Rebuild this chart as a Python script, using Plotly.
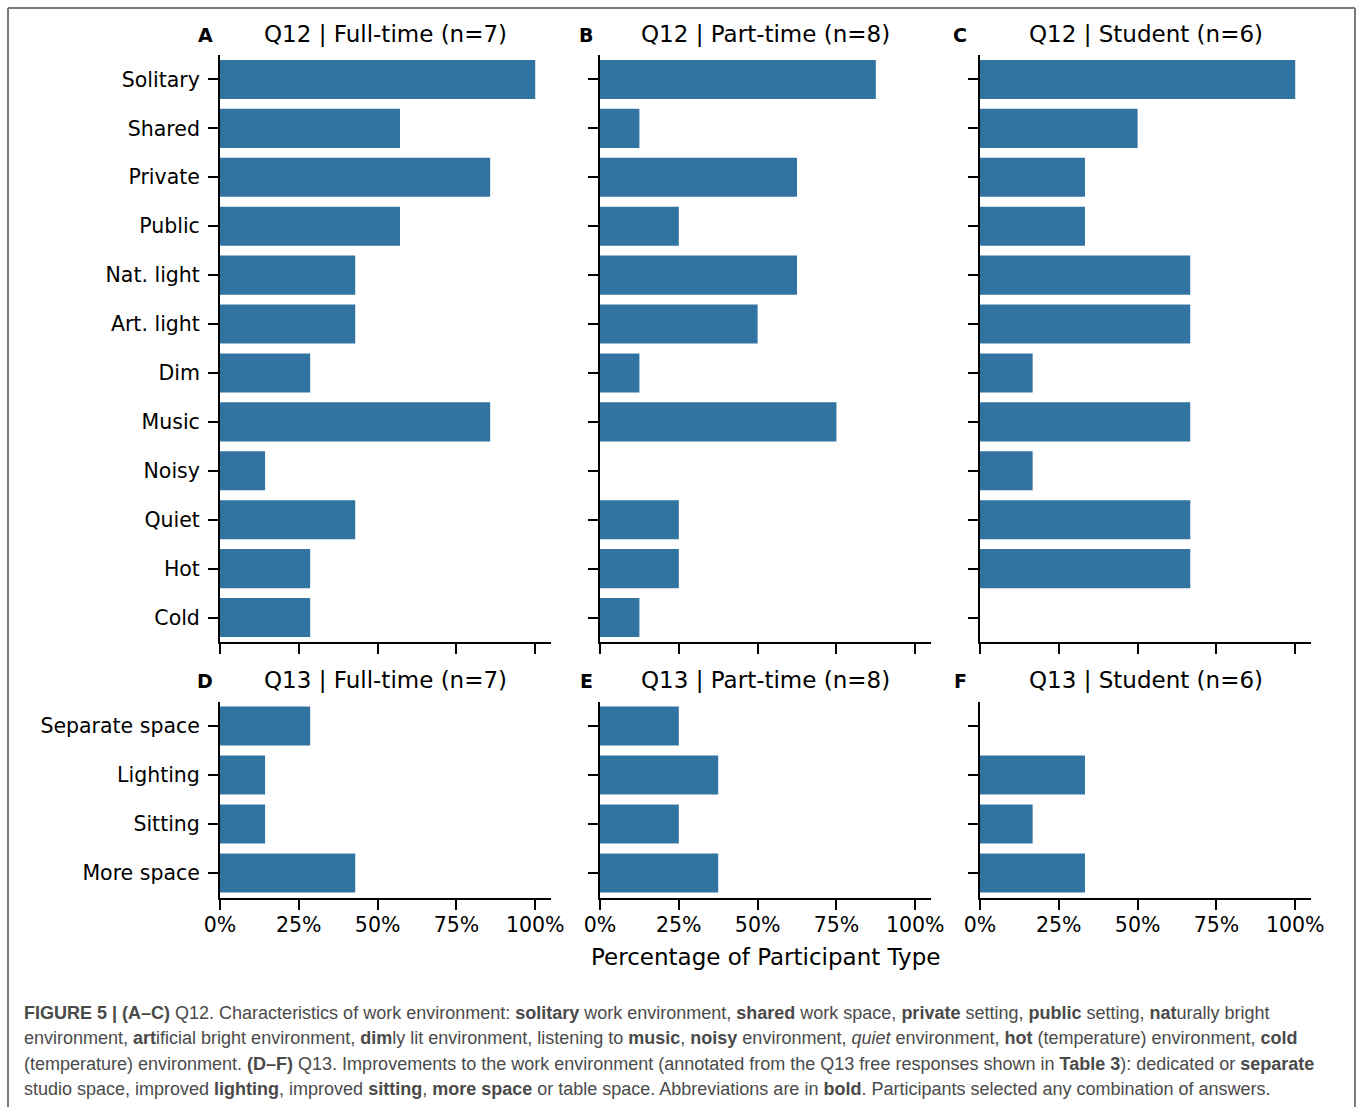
import plotly.graph_objects as go

# ---- data -------------------------------------------------------------
q12_categories = ["Solitary", "Shared", "Private", "Public", "Nat. light", "Art. light",
                  "Dim", "Music", "Noisy", "Quiet", "Hot", "Cold"]
q13_categories = ["Separate space", "Lighting", "Sitting", "More space"]

# share of participants of each type (0-1)
q12_full_time = [1.000, 0.571, 0.857, 0.571, 0.429, 0.429, 0.286, 0.857, 0.143, 0.429, 0.286, 0.286]
q12_part_time = [0.875, 0.125, 0.625, 0.250, 0.625, 0.500, 0.125, 0.750, 0.000, 0.250, 0.250, 0.125]
q12_student = [1.000, 0.500, 0.333, 0.333, 0.667, 0.667, 0.167, 0.667, 0.167, 0.667, 0.667, 0.000]

q13_full_time = [0.286, 0.143, 0.143, 0.429]
q13_part_time = [0.250, 0.375, 0.250, 0.375]
q13_student = [0.000, 0.333, 0.167, 0.333]

panel_titles = ["Q12 | Full-time (n=7)", "Q12 | Part-time (n=8)", "Q12 | Student (n=6)",
                "Q13 | Full-time (n=7)", "Q13 | Part-time (n=8)", "Q13 | Student (n=6)"]
panel_letters = ["A", "B", "C", "D", "E", "F"]

x_tick_values = [0, 0.25, 0.5, 0.75, 1.0]
x_tick_labels = ["0%", "25%", "50%", "75%", "100%"]
x_axis_title = "Percentage of Participant Type"

caption_lines = [
    "<b>FIGURE 5 | (A–C)</b> Q12. Characteristics of work environment: <b>solitary</b> work environment, "
    "<b>shared</b> work space, <b>private</b> setting, <b>public</b> setting, <b>nat</b>urally bright",
    "environment, <b>art</b>ificial bright environment, <b>dim</b>ly lit environment, listening to <b>music</b>, "
    "<b>noisy</b> environment, <i>quiet</i> environment, <b>hot</b> (temperature) environment, <b>cold</b>",
    "(temperature) environment. <b>(D–F)</b> Q13. Improvements to the work environment (annotated from the "
    "Q13 free responses shown in <b>Table 3</b>): dedicated or <b>separate</b>",
    "studio space, improved <b>lighting</b>, improved <b>sitting</b>, <b>more space</b> or table space. "
    "Abbreviations are in <b>bold</b>. Participants selected any combination of answers.",
]

# ---- layout geometry (pixels) -----------------------------------------
W, H = 1357, 1107
col_px = [(220, 551), (600, 931), (980, 1311)]
row_px = [(55, 642), (701.5, 897.5)]
letter_x_px = [205, 586, 960]
title_y_px = [34, 680]
caption_y_px = [1013, 1038, 1064, 1089]

BAR_COLOR = "#3274a1"
FONT = "DejaVu Sans"


def px_x(x):
    return x / W


def px_y(y):
    return 1 - y / H


panels = [
    (q12_categories, q12_full_time), (q12_categories, q12_part_time), (q12_categories, q12_student),
    (q13_categories, q13_full_time), (q13_categories, q13_part_time), (q13_categories, q13_student),
]

fig = go.Figure()
layout = dict(
    width=W, height=H,
    margin=dict(l=0, r=0, t=0, b=0),
    paper_bgcolor="white", plot_bgcolor="white",
    showlegend=False,
    font=dict(family=FONT, size=20.5, color="black"),
    bargap=0.2,
)
annotations = []

for i, (cats, vals) in enumerate(panels):
    row, col = divmod(i, 3)
    n = i + 1
    xname = "x" if n == 1 else f"x{n}"
    yname = "y" if n == 1 else f"y{n}"
    fig.add_trace(go.Bar(
        x=vals, y=cats, orientation="h", xaxis=xname, yaxis=yname,
        marker=dict(color=BAR_COLOR, line=dict(width=0)), width=0.8,
        hovertemplate="%{y}: %{x:.0%}<extra></extra>",
    ))
    x0, x1 = col_px[col]
    y0, y1 = row_px[row]
    layout["xaxis" if n == 1 else f"xaxis{n}"] = dict(
        domain=[px_x(x0), px_x(x1)], anchor=yname,
        range=[0, 1.05], tickvals=x_tick_values, ticktext=x_tick_labels,
        showticklabels=(row == 1), showgrid=False, zeroline=False,
        showline=True, linecolor="black", linewidth=2,
        ticks="outside", ticklen=10, tickwidth=2, tickcolor="black",
        tickfont=dict(size=20.5), ticklabelstandoff=-2, automargin=False, fixedrange=True,
    )
    layout["yaxis" if n == 1 else f"yaxis{n}"] = dict(
        domain=[px_y(y1), px_y(y0)], anchor=xname,
        type="category", categoryorder="array", categoryarray=cats,
        range=[len(cats) - 0.5, -0.5],
        showticklabels=(col == 0), showgrid=False, zeroline=False,
        showline=True, linecolor="black", linewidth=2,
        ticks="outside", ticklen=10, tickwidth=2, tickcolor="black",
        tickfont=dict(size=20.5), ticklabelstandoff=4, automargin=False, fixedrange=True,
    )
    # panel title and letter
    annotations.append(dict(
        text=panel_titles[i], xref="paper", yref="paper",
        x=px_x((x0 + x1) / 2), y=px_y(title_y_px[row]), xanchor="center", yanchor="middle",
        showarrow=False, font=dict(family=FONT, size=23, color="black"),
    ))
    annotations.append(dict(
        text=f"<b>{panel_letters[i]}</b>", xref="paper", yref="paper",
        x=px_x(letter_x_px[col]), y=px_y(title_y_px[row] + 1), xanchor="center", yanchor="middle",
        showarrow=False, font=dict(family=FONT, size=19, color="black"),
    ))

# shared x-axis title
annotations.append(dict(
    text=x_axis_title, xref="paper", yref="paper",
    x=px_x((col_px[1][0] + col_px[1][1]) / 2), y=px_y(957), xanchor="center", yanchor="middle",
    showarrow=False, font=dict(family=FONT, size=23, color="black"),
))

# figure caption
for line, y in zip(caption_lines, caption_y_px):
    annotations.append(dict(
        text=line, xref="paper", yref="paper",
        x=px_x(22), y=px_y(y), xanchor="left", yanchor="middle", align="left",
        showarrow=False, font=dict(family="Liberation Sans", size=18, color="#4a4a4a"),
    ))

layout["annotations"] = annotations

# outer frame (open at the bottom)
frame = dict(color="#7a7a7a", width=2)
layout["shapes"] = [
    dict(type="line", xref="paper", yref="paper", x0=px_x(8), x1=px_x(1355), y0=px_y(8), y1=px_y(8), line=frame),
    dict(type="line", xref="paper", yref="paper", x0=px_x(8), x1=px_x(8), y0=px_y(8), y1=px_y(H + 2), line=frame),
    dict(type="line", xref="paper", yref="paper", x0=px_x(1355), x1=px_x(1355), y0=px_y(8), y1=px_y(H + 2), line=frame),
]

fig.update_layout(**layout)
fig.write_html("out.html")
